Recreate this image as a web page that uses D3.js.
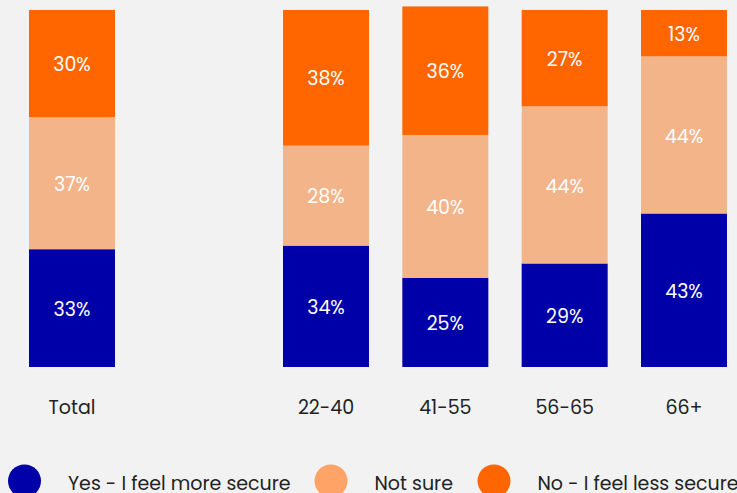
<!DOCTYPE html>
<html>
<head>
<meta charset="utf-8">
<script src="https://cdn.jsdelivr.net/npm/d3@7"></script>
<style>
  html, body { margin: 0; padding: 0; background: #f2f2f2; }
  svg { display: block; }
</style>
</head>
<body>
<svg id="chart" width="737" height="493"></svg>
<script>
// Overall figure plus four age groups
const totalCategory = "Total";
const ageGroups = ["22-40", "41-55", "56-65", "66+"];
const categories = [totalCategory, ...ageGroups];

const seriesNames = ["Yes - I feel more secure", "Not sure", "No - I feel less secure"];
const yesValues = [33, 34, 25, 29, 43];
const notSureValues = [37, 28, 40, 44, 44];
const noValues = [30, 38, 36, 27, 13];

const barColors = ["#0000a8", "#f3b48a", "#ff6600"];
const legendColors = ["#0000a8", "#ffa366", "#ff6600"];

const W = 737, H = 493;
const FONT = "Poppins, Inter, 'Noto Sans', sans-serif";
const svg = d3.select("#chart");
svg.append("rect").attr("width", W).attr("height", H).attr("fill", "#f2f2f2");

const rows = categories.map((c, i) => ({
  category: c,
  yes: yesValues[i],
  notSure: notSureValues[i],
  no: noValues[i]
}));
const keys = ["yes", "notSure", "no"];
const stacked = d3.stack().keys(keys)(rows);

// The total bar stands apart from the age-group bars
const xTotal = d3.scaleBand().domain([totalCategory]).range([29, 115]).padding(0);
const xAge = d3.scaleBand().domain(ageGroups).range([283, 727]).paddingInner(0.2793).paddingOuter(0);
const xPos = c => c === totalCategory ? xTotal(c) : xAge(c);
const bw = xAge.bandwidth();

const y = d3.scaleLinear().domain([0, 100]).range([367, 10]);

const layers = svg.append("g").selectAll("g")
  .data(stacked)
  .join("g")
  .attr("fill", (d, i) => barColors[i]);

layers.selectAll("rect")
  .data(d => d)
  .join("rect")
  .attr("x", d => xPos(d.data.category))
  .attr("y", d => y(d[1]))
  .attr("width", bw)
  .attr("height", d => y(d[0]) - y(d[1]));

layers.selectAll("text")
  .data(d => d.map(s => ({ s, key: d.key })))
  .join("text")
  .attr("x", d => xPos(d.s.data.category) + bw / 2)
  .attr("y", d => (y(d.s[0]) + y(d.s[1])) / 2)
  .attr("dy", "0.4em")
  .attr("text-anchor", "middle")
  .attr("fill", "#ffffff")
  .attr("font-family", FONT)
  .attr("font-size", 19)
  .text(d => d.s.data[d.key] + "%");

// Category labels under the bars
svg.append("g").selectAll("text")
  .data(categories)
  .join("text")
  .attr("x", c => xPos(c) + bw / 2)
  .attr("y", 414)
  .attr("text-anchor", "middle")
  .attr("fill", "#222222")
  .attr("font-family", FONT)
  .attr("font-size", 19)
  .text(c => c);

// Legend
const legendX = [24.5, 331, 494];
const legend = svg.append("g").selectAll("g")
  .data(seriesNames)
  .join("g");
legend.append("circle")
  .attr("cx", (d, i) => legendX[i])
  .attr("cy", 481)
  .attr("r", 16.5)
  .attr("fill", (d, i) => legendColors[i]);
legend.append("text")
  .attr("x", (d, i) => legendX[i] + 43.5)
  .attr("y", 490)
  .attr("fill", "#222222")
  .attr("font-family", FONT)
  .attr("font-size", 19)
  .text(d => d);
</script>
</body>
</html>
